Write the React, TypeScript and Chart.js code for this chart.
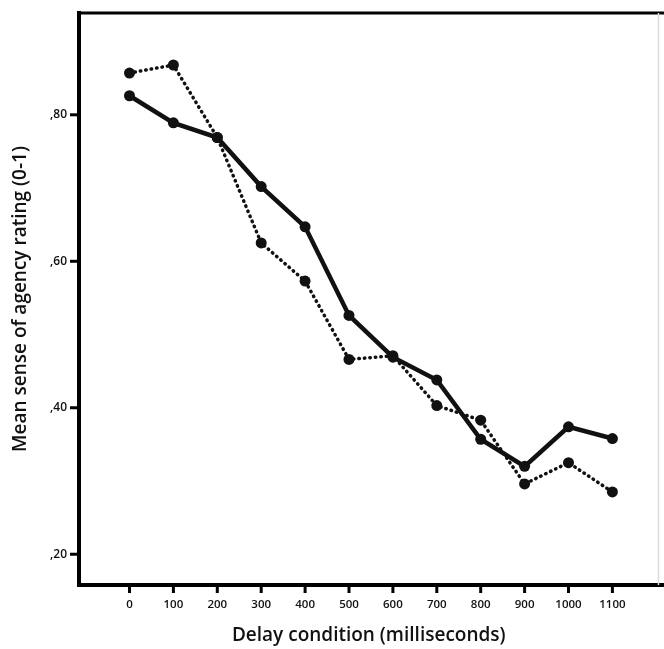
import React, { useEffect, useRef } from "react";
import { Chart, registerables } from "chart.js";

Chart.register(...registerables);

const delays = [0, 100, 200, 300, 400, 500, 600, 700, 800, 900, 1000, 1100];
const solidSeries = [0.826, 0.789, 0.769, 0.702, 0.647, 0.526, 0.469, 0.438, 0.357, 0.320, 0.374, 0.358];
const dottedSeries = [0.857, 0.868, 0.769, 0.625, 0.573, 0.466, 0.471, 0.403, 0.383, 0.296, 0.325, 0.285];
const yTickValues = [0.2, 0.4, 0.6, 0.8];
const xTitle = "Delay condition (milliseconds)";
const yTitle = "Mean sense of agency rating (0-1)";

const FONT = "'Open Sans', 'DejaVu Sans', sans-serif";
const TICK_COLOR = "#000";

const framePlugin = {
  id: "frame",
  afterDraw(chart: any) {
    const { ctx, chartArea } = chart;
    const xs = chart.scales.x;
    const ys = chart.scales.y;
    ctx.save();
    ctx.setLineDash([]);
    ctx.strokeStyle = "#000";
    ctx.lineWidth = 3;
    ctx.beginPath();
    ctx.moveTo(chartArea.left, chartArea.top);
    ctx.lineTo(chart.width, chartArea.top);
    ctx.stroke();
    ctx.lineWidth = 4;
    ctx.beginPath();
    ctx.moveTo(chartArea.left - 2, chartArea.bottom);
    ctx.lineTo(chart.width, chartArea.bottom);
    ctx.stroke();
    ctx.fillStyle = TICK_COLOR;
    for (const v of delays) {
      const px = xs.getPixelForValue(v);
      ctx.fillRect(px - 1.5, chartArea.bottom, 3, 8);
    }
    for (const v of yTickValues) {
      const py = ys.getPixelForValue(v);
      ctx.fillRect(chartArea.left - 9, py - 1.5, 9, 3);
    }
    ctx.strokeStyle = "#dcdcdc";
    ctx.lineWidth = 1.5;
    ctx.beginPath();
    ctx.moveTo(chartArea.right, chartArea.top);
    ctx.lineTo(chartArea.right, chartArea.bottom);
    ctx.stroke();
    ctx.restore();
  },
};

export default function App() {
  const ref = useRef<HTMLCanvasElement | null>(null);
  useEffect(() => {
    if (!ref.current) return;
    const chart = new Chart(ref.current, {
      type: "line",
      data: {
        datasets: [
          {
            label: "dotted",
            data: delays.map((d, i) => ({ x: d, y: dottedSeries[i] })),
            borderColor: "#111",
            backgroundColor: "#111",
            borderWidth: 3.5,
            borderDash: [0.5, 5],
            borderCapStyle: "round",
            pointRadius: 5.5,
            pointBorderWidth: 0,
            tension: 0,
          },
          {
            label: "solid",
            data: delays.map((d, i) => ({ x: d, y: solidSeries[i] })),
            borderColor: "#111",
            backgroundColor: "#111",
            borderWidth: 4.5,
            pointRadius: 5.5,
            pointBorderWidth: 0,
            tension: 0,
          },
        ],
      },
      options: {
        animation: false,
        responsive: true,
        maintainAspectRatio: false,
        layout: { padding: { top: 13, right: 2, left: 0, bottom: 0 } },
        plugins: { legend: { display: false }, tooltip: { enabled: false } },
        scales: {
          x: {
            type: "linear",
            min: -115,
            max: 1205,
            afterBuildTicks: (s: any) => {
              s.ticks = delays.map((v) => ({ value: v }));
            },
            afterFit: (s: any) => {
              s.height = 64;
            },
            border: { display: true, color: "#000", width: 4 },
            grid: { display: true, drawOnChartArea: false, drawTicks: true, tickLength: 9, color: "rgba(0,0,0,0)" },
            ticks: {
              color: "#111",
              padding: 4,
              maxRotation: 0,
              autoSkip: false,
              font: { family: FONT, size: 11.5, weight: 600 },
              callback: (v: any) => String(v),
            },
            title: {
              display: true,
              text: xTitle,
              color: "#111",
              font: { family: FONT, size: 19, weight: 600 },
              padding: { top: 0, bottom: 2 },
            },
          },
          y: {
            type: "linear",
            min: 0.158,
            max: 0.939,
            afterBuildTicks: (s: any) => {
              s.ticks = yTickValues.map((v) => ({ value: v }));
            },
            afterFit: (s: any) => {
              s.width = 79;
            },
            border: { display: true, color: "#000", width: 4 },
            grid: { display: true, drawOnChartArea: false, drawTicks: true, tickLength: 10, color: "rgba(0,0,0,0)" },
            ticks: {
              color: "#111",
              padding: 2,
              font: { family: FONT, size: 12, weight: 600 },
              callback: (v: any) => "," + Math.round(Number(v) * 100),
            },
            title: {
              display: true,
              text: yTitle,
              color: "#111",
              font: { family: FONT, size: 19, weight: 600 },
              padding: { top: 9, bottom: 0 },
            },
          },
        },
      },
      plugins: [framePlugin],
    });
    return () => chart.destroy();
  }, []);
  return (
    <div style={{ position: "absolute", left: 0, top: 0, width: 664, height: 649, background: "#fff" }}>
      <canvas ref={ref} />
    </div>
  );
}
